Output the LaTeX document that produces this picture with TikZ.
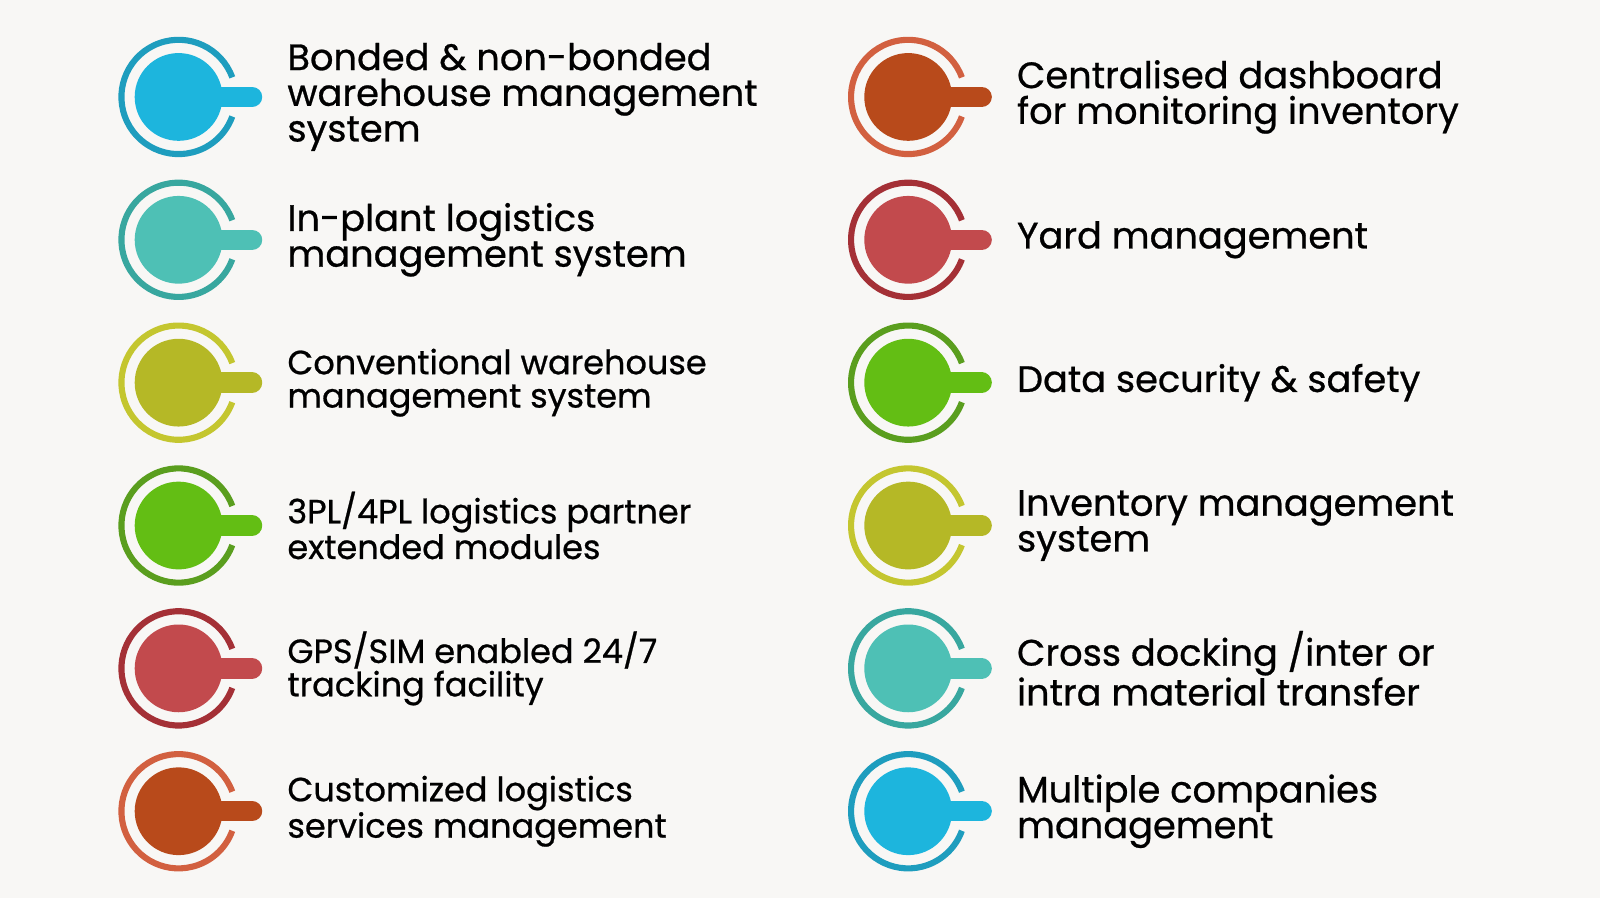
\documentclass[tikz,border=0pt]{standalone}
\usepackage{fontspec}
\setmainfont{Poppins}[FakeBold=0.7]
\usetikzlibrary{positioning}
\definecolor{bgc}{HTML}{F8F7F5}
\definecolor{bluef}{HTML}{1DB5DD}\definecolor{bluer}{HTML}{1E9DBE}
\definecolor{tealf}{HTML}{4EC0B5}\definecolor{tealr}{HTML}{38A79F}
\definecolor{olivef}{HTML}{B5B826}\definecolor{oliver}{HTML}{C4C62F}
\definecolor{greenf}{HTML}{63BE14}\definecolor{greenr}{HTML}{5A9E1E}
\definecolor{redf}{HTML}{C24A4D}\definecolor{redr}{HTML}{A43036}
\definecolor{orangef}{HTML}{B84A1B}\definecolor{oranger}{HTML}{D26040}
\tikzset{%
	dot/.style={circle, fill=#1, minimum size=1.72cm, inner sep=0},
	label text/.style={align=left, inner sep=0, anchor=west, text=black},
	big/.style={font=\fontsize{20.5}{19.9}\selectfont},
	small/.style={font=\fontsize{18.7}{18.6}\selectfont},
}
\begin{document}
\begin{tikzpicture}
	\fill[bgc] (0,0) rectangle (31.36,-17.6);
	\foreach \nm/\x/\y/\fc/\rc/\sz/\txt in {
		l1/3.5/1.9/bluef/bluer/big/{Bonded \& non-bonded\\warehouse management\\system},
		l2/3.5/4.7/tealf/tealr/big/{In-plant logistics\\management system},
		l3/3.5/7.5/olivef/oliver/small/{Conventional warehouse\\management system},
		l4/3.5/10.3/greenf/greenr/small/{3PL/4PL logistics partner\\extended modules},
		l5/3.5/13.1/redf/redr/small/{GPS/SIM enabled 24/7\\tracking facility},
		l6/3.5/15.9/orangef/oranger/small/{Customized logistics\\services management},
		r1/17.8/1.9/orangef/oranger/big/{Centralised dashboard\\for monitoring inventory},
		r2/17.8/4.7/redf/redr/big/{Yard management},
		r3/17.8/7.5/greenf/greenr/big/{Data security \& safety},
		r4/17.8/10.3/olivef/oliver/big/{Inventory management\\system},
		r5/17.8/13.1/tealf/tealr/big/{Cross docking /inter or\\intra material transfer},
		r6/17.8/15.9/bluef/bluer/big/{Multiple companies\\management}}
	{
		% ring, tab and disc
		\draw[\rc, line width=0.12cm] (\x,-\y) ++(20:1.12) arc (20:340:1.12);
		\draw[\fc, line width=0.4cm, line cap=round] (\x,-\y) -- ++(1.44,0);
		\node[dot=\fc] (\nm) at (\x,-\y) {};
		\node[label text, \sz, right=1.26cm of \nm] (\nm t) {\txt};
	}
\end{tikzpicture}
\end{document}
